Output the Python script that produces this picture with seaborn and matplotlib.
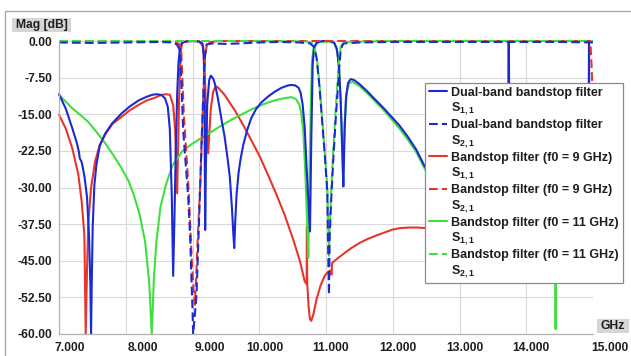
import numpy as np
import pandas as pd
import matplotlib
matplotlib.use("Agg")
import matplotlib.pyplot as plt
import seaborn as sns
from matplotlib.lines import Line2D
from matplotlib.patches import Rectangle
from matplotlib.transforms import ScaledTranslation

# ---------------- data (frequency GHz, magnitude dB) ----------------
dual_s11 = [(7.00,-10.9),(7.10,-13.8),(7.20,-17.9),(7.27,-21.0),(7.30,-22.8),(7.31,-24.0),(7.34,-24.8),
            (7.38,-27.6),(7.42,-32),(7.45,-40),(7.47,-50),(7.48,-60),(7.49,-50),(7.505,-38),(7.53,-29.5),
            (7.56,-25.4),(7.61,-21.5),(7.69,-19.0),(7.80,-16.8),(7.94,-14.8),(8.06,-13.4),(8.19,-12.2),
            (8.30,-11.5),(8.40,-11.0),(8.47,-10.9),(8.54,-11.1),(8.59,-11.8),(8.63,-13.5),(8.66,-18),
            (8.69,-32),(8.71,-48.1),(8.73,-36),(8.75,-22),(8.77,-11),(8.79,-4.5),(8.81,-1.6),(8.84,-0.4),
            (8.90,-0.1),(9.00,0.0),(9.10,-0.1),(9.15,-0.5),(9.17,-3),(9.18,-15),(9.19,-38.7),(9.20,-26),
            (9.22,-13),(9.25,-8.0),(9.275,-7.1),(9.31,-7.7),(9.34,-9.0),(9.38,-11.7),(9.44,-16.5),
            (9.48,-19.5),(9.53,-24.5),(9.56,-28),(9.59,-34),(9.61,-39),(9.625,-42.4),(9.64,-37),
            (9.66,-31.5),(9.69,-27),(9.72,-24.2),(9.76,-21.3),(9.82,-18.2),(9.88,-15.8),(9.95,-14.0),
            (10.03,-12.6),(10.13,-11.4),(10.23,-10.4),(10.33,-9.6),(10.43,-9.1),(10.48,-9.0),(10.54,-9.1),
            (10.59,-9.6),(10.62,-10.6),(10.65,-13.0),(10.68,-17.5),(10.71,-26),(10.74,-34),(10.76,-39),
            (10.78,-20),(10.80,-5),(10.82,-1.5),(10.86,-0.3),(10.95,0.0),(11.05,0.0),(11.12,-0.3),
            (11.16,-1.5),(11.19,-4.5),(11.22,-12),(11.245,-23),(11.26,-29.8),(11.28,-18),(11.30,-11.5),
            (11.33,-8.6),(11.37,-7.8),(11.42,-8.0),(11.50,-8.8),(11.61,-10.2),(11.73,-11.9),(11.86,-13.7),
            (11.98,-15.5),(12.10,-17.3),(12.22,-19.5),(12.35,-22.2),(12.48,-25.7),(12.70,-30),(13.00,-35),
            (13.30,-38),(13.60,-40),(13.73,-41),(13.74,0.0),(13.75,-41),(14.00,-38),(14.40,-33),
            (14.80,-30),(14.93,-29),(14.94,0.0),(14.95,-29),(15.00,-29)]

dual_s21 = [(7.00,-0.3),(7.50,-0.4),(8.00,-0.3),(8.50,-0.2),(8.72,-0.3),(8.77,-0.8),(8.81,-1.8),
            (8.835,-9),(8.86,-18.2),(8.90,-25.5),(8.935,-31.9),(8.965,-40),(8.985,-49),(9.00,-55),
            (9.01,-60),(9.03,-57),(9.06,-51.9),(9.085,-42),(9.11,-31.9),(9.135,-21),(9.16,-11.5),
            (9.185,-3.3),(9.21,-0.7),(9.30,-0.5),(9.50,-0.6),(9.70,-0.5),(10.00,-0.3),(10.30,-0.2),
            (10.60,-0.3),(10.76,-0.5),(10.82,-1.2),(10.86,-3.5),(10.90,-9),(10.94,-16),(10.98,-23),
            (11.02,-31),(11.035,-45),(11.045,-52),(11.055,-40),(11.08,-32),(11.11,-24),(11.15,-15),
            (11.19,-7),(11.22,-1.8),(11.26,-0.5),(11.50,-0.3),(12.00,-0.2),(12.50,-0.2),(13.00,-0.2),
            (13.50,-0.2),(14.00,-0.2),(14.50,-0.2),(15.00,-0.3)]

bs9_s11 = [(7.00,-15.1),(7.10,-17.9),(7.20,-22.0),(7.29,-27.4),(7.34,-32.9),(7.38,-39.7),(7.40,-60),
           (7.42,-46.5),(7.44,-37),(7.48,-30.1),(7.54,-24.7),(7.61,-21.3),(7.69,-19.2),(7.80,-17.0),
           (7.94,-15.5),(8.06,-14.2),(8.19,-13.1),(8.31,-12.2),(8.44,-11.6),(8.52,-11.1),(8.59,-10.9),
           (8.66,-11.0),(8.71,-13.1),(8.74,-18.2),(8.77,-31.2),(8.80,-11.4),(8.82,-3.2),(8.84,-0.4),
           (8.90,-0.1),(9.00,0.0),(9.10,-0.1),(9.16,-1.1),(9.19,-8.9),(9.21,-17.5),(9.235,-23.0),
           (9.255,-18),(9.275,-13.8),(9.31,-10.4),(9.345,-9.3),(9.38,-9.5),(9.48,-11.0),(9.55,-12.5),
           (9.63,-14.1),(9.76,-17.2),(9.88,-20.3),(10.01,-23.7),(10.13,-27.4),(10.26,-31.5),
           (10.38,-35.6),(10.51,-40.7),(10.61,-45.1),(10.68,-49.2),(10.71,-49.8),(10.714,-38.0),
           (10.718,-49.5),(10.74,-54.5),(10.76,-57.0),(10.78,-57.3),(10.81,-56.0),(10.86,-52.8),
           (10.92,-50.0),(10.98,-48.1),(11.03,-47.3),(11.065,-47.0),(11.07,-47.8),(11.085,-47.8),
           (11.09,-45.5),(11.13,-45.0),(11.26,-43.6),(11.38,-42.4),(11.51,-41.3),(11.63,-40.5),
           (11.76,-39.8),(11.88,-39.2),(12.00,-38.6),(12.12,-38.3),(12.25,-38.2),(12.37,-38.2),
           (12.48,-38.3),(12.70,-39.0),(13.00,-40.5),(13.50,-43.0),(14.00,-45.0),(14.50,-46.0),
           (15.00,-46.5)]

bs9_s21 = [(7.00,0.0),(8.00,0.0),(8.70,-0.1),(8.79,-0.5),(8.83,-1.5),(8.87,-15),(8.94,-30),(8.99,-45),
           (9.02,-52),(9.035,-54),(9.05,-50),(9.08,-40),(9.12,-28),(9.16,-12),(9.19,-3),(9.22,-0.3),
           (9.40,0.0),(10.00,0.0),(11.00,0.0),(12.00,0.0),(13.00,0.0),(14.00,0.0),(14.96,0.0),
           (14.975,-4),(14.99,-9),(15.00,-12)]

bs11_s11 = [(7.00,-11.0),(7.10,-12.4),(7.20,-13.8),(7.30,-14.9),(7.44,-16.6),(7.56,-18.6),(7.69,-20.9),
            (7.81,-23.3),(7.94,-26.1),(8.04,-28.6),(8.12,-31.5),(8.21,-35.6),(8.29,-41.1),(8.35,-49.2),
            (8.39,-60),(8.42,-49),(8.46,-41),(8.52,-34),(8.60,-29.5),(8.70,-25.5),(8.85,-22.5),
            (9.00,-21.0),(9.20,-19.3),(9.40,-17.6),(9.60,-16.0),(9.77,-14.8),(9.90,-13.9),(10.00,-13.3),
            (10.13,-12.6),(10.25,-12.1),(10.38,-11.7),(10.48,-11.5),(10.55,-11.9),(10.60,-13.0),
            (10.63,-14.8),(10.66,-18.5),(10.69,-27),(10.715,-36),(10.735,-44.4),(10.755,-25),
            (10.775,-12),(10.79,-4),(10.82,-1),(10.90,-0.2),(11.05,-0.1),(11.13,-0.5),(11.17,-2.2),
            (11.20,-6.5),(11.23,-16),(11.255,-27.5),(11.28,-16.5),(11.31,-10.5),(11.35,-8.6),
            (11.40,-8.4),(11.50,-9.2),(11.61,-10.6),(11.73,-12.3),(11.86,-14.1),(11.98,-16.0),
            (12.10,-17.9),(12.22,-20.1),(12.35,-22.7),(12.48,-26.2),(12.70,-31),(13.00,-36),
            (13.30,-39),(13.60,-41),(13.72,-42),(13.73,0.0),(13.74,-42),(14.00,-41),(14.30,-40),
            (14.43,-40),(14.44,-59),(14.45,-40),(14.70,-38),(15.00,-37)]

bs11_s21 = [(7.00,0.0),(8.00,0.0),(9.00,0.0),(10.00,0.0),(10.70,-0.1),(10.78,-0.3),(10.82,-1.0),
            (10.86,-3.2),(10.90,-8.5),(10.94,-15.5),(10.98,-22.5),(11.02,-30),(11.035,-38),
            (11.045,-44),(11.055,-38),(11.08,-30),(11.11,-22),(11.15,-13),(11.19,-5),(11.22,-1.2),
            (11.26,-0.2),(12.00,0.0),(13.00,0.0),(14.00,0.0),(15.00,0.0)]

filters = ["Dual-band bandstop filter", "Bandstop filter (f0 = 9 GHz)", "Bandstop filter (f0 = 11 GHz)"]
params = ["S$_{1,1}$", "S$_{2,1}$"]
x_ticks = [7, 8, 9, 10, 11, 12, 13, 14, 15]
y_ticks = [0, -7.5, -15, -22.5, -30, -37.5, -45, -52.5, -60]

# ---------------- style ----------------
BLUE, RED, GREEN = "#1c2ad2", "#e6362c", "#3fdf3f"
DASH = (0, (4.2, 2.0))
TXT = "#1e1e1e"

sns.set_style("white")
plt.rcParams["font.family"] = ["Liberation Sans", "DejaVu Sans"]
plt.rcParams["font.weight"] = "bold"
plt.rcParams["mathtext.fontset"] = "custom"
plt.rcParams["mathtext.rm"] = "Liberation Sans:bold"
plt.rcParams["mathtext.it"] = "Liberation Sans:bold"
plt.rcParams["mathtext.bf"] = "Liberation Sans:bold"

W, H = 631, 356
fig = plt.figure(figsize=(W / 100, H / 100), dpi=100)
ax = fig.add_axes([59 / W, 1 - 334 / H, (593 - 59) / W, (334 - 41) / H])

series = [
    (bs9_s11, RED, "-"), (bs11_s11, GREEN, "-"), (dual_s11, BLUE, "-"),
    (bs9_s21, RED, DASH), (bs11_s21, GREEN, DASH), (dual_s21, BLUE, DASH),
]
for pts, col, ls in series:
    df = pd.DataFrame(pts, columns=["f", "db"])
    sns.lineplot(data=df, x="f", y="db", ax=ax, sort=False, estimator=None,
                 color=col, linestyle=ls, lw=1.5, clip_on=False)

ax.set_xlim(7, 15)
ax.set_ylim(-60, 0)
ax.set_xlabel("")
ax.set_ylabel("")
ax.set_xticks(x_ticks, [f"{v:.3f}" for v in x_ticks])
ax.set_yticks(y_ticks, [f"{v:.2f}" for v in y_ticks])
ax.grid(True, color="#d9d9d9", lw=0.8)
ax.tick_params(length=0, labelsize=8.7, labelcolor=TXT)
ax.tick_params(axis="y", pad=5)
ax.tick_params(axis="x", pad=6)
for s in ["top", "right"]:
    ax.spines[s].set_visible(False)
for s in ["left", "bottom"]:
    ax.spines[s].set_color("#b4b4b4")
    ax.spines[s].set_linewidth(0.9)

# irregular label placement of the original
x_off = [11, 17.6, 17, 5.6, 5, 5, 5.4, 5, 17]
for tk, dx in zip(ax.xaxis.get_major_ticks(), x_off):
    tk.label1.set_transform(tk.label1.get_transform() + ScaledTranslation(dx / 100, 0, fig.dpi_scale_trans))

# legend: first line carries the handle, second line the parameter
colors = [BLUE, RED, GREEN]
handles, labels = [], []
for name, col in zip(filters, colors):
    for p, ls in zip(params, ["-", DASH]):
        handles.append(Line2D([], [], color=col, linestyle=ls, lw=1.5))
        labels.append(name)
        handles.append(Line2D([], [], linestyle="none"))
        labels.append(p)
leg = ax.legend(handles, labels, loc="upper left", bbox_to_anchor=(425 / W, 1 - 83 / H),
                bbox_transform=fig.transFigure, frameon=True, fancybox=False, framealpha=1,
                edgecolor="#8a8a8a", borderpad=0.3, labelspacing=0.15, handlelength=1.45,
                handletextpad=0.35, borderaxespad=0, prop={"weight": "bold", "size": 9.0},
                labelcolor=TXT)
leg.get_frame().set_linewidth(0.9)

# outer frame and unit boxes
fig.add_artist(Rectangle((5 / W, -0.1), 1.2, (1 - 11 / H) + 0.1, transform=fig.transFigure,
                         fill=False, edgecolor="#a8a8a8", lw=1))
fig.add_artist(Rectangle((12 / W, 1 - 32 / H), 59 / W, 14 / H, transform=fig.transFigure,
                         facecolor="#d6d6d6", edgecolor="none"))
fig.text(41.5 / W, 1 - 25 / H, "Mag [dB]", ha="center", va="center", fontsize=8.7,
         weight="bold", color=TXT)
fig.add_artist(Rectangle((597 / W, 1 - 333 / H), 32 / W, 14 / H, transform=fig.transFigure,
                         facecolor="#d6d6d6", edgecolor="none"))
fig.text(613 / W, 1 - 326 / H, "GHz", ha="center", va="center", fontsize=8.7,
         weight="bold", color=TXT)

fig.savefig("out.png", dpi=100)
